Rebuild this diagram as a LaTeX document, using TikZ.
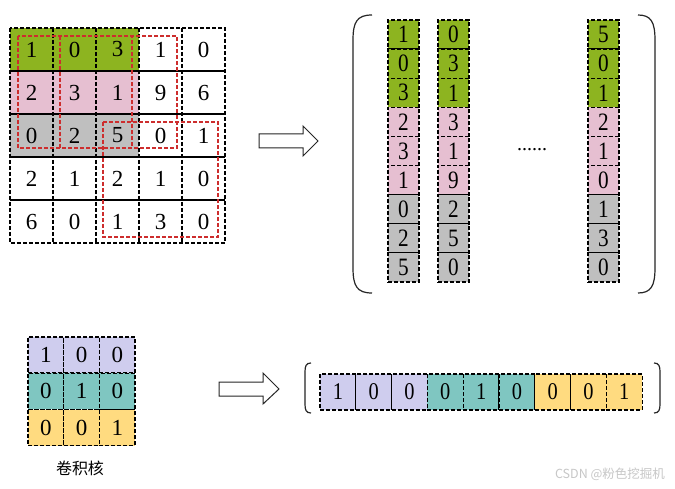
\documentclass[tikz,border=0pt]{standalone}
\usepackage{fontspec}
\setmainfont{Liberation Serif}
\newfontfamily\cjk{Noto Sans CJK SC}
\definecolor{cgreen}{RGB}{141,180,32}
\definecolor{cpink}{RGB}{230,191,209}
\definecolor{cgray}{RGB}{191,191,191}
\definecolor{clav}{RGB}{207,205,238}
\definecolor{cteal}{RGB}{127,198,193}
\definecolor{cyel}{RGB}{255,219,128}
\definecolor{cred}{RGB}{205,45,45}
\tikzset{
  dsh/.style={dash pattern=on 4pt off 2pt, line width=1.3pt},
  num/.style={inner sep=0pt, font=\fontsize{23}{23}\selectfont},
  colcell/.style={draw=black, dsh, minimum width=31pt, minimum height=29.1pt, inner sep=0pt, font=\fontsize{25}{25}\selectfont},
  kcell/.style={draw=black, dsh, minimum width=35.7pt, minimum height=36pt, inner sep=0pt, font=\fontsize{23}{23}\selectfont},
  vcell/.style={draw=black, dsh, minimum width=35.8pt, minimum height=36pt, inner sep=0pt, font=\fontsize{24}{24}\selectfont},
  reddash/.style={draw=cred, dsh},
  bigarrow/.style={draw=black!85, line width=1pt, fill=white},
  bracket/.style={draw=black!85, line width=1.2pt}
}
\begin{document}
\begin{tikzpicture}[x=1pt,y=-1pt]
\useasboundingbox[fill=white] (0,0) rectangle (675,489);
% ---- input grid ----
\fill[cgreen] (10,28) rectangle (139,71);
\fill[cpink] (10,71) rectangle (139,114);
\fill[cgray] (10,114) rectangle (139,157);
\foreach \xx in {53,96,139,182} \draw[dsh] (\xx,28) -- (\xx,243);
\foreach \yy in {71,114,157,200} \draw[line width=1.2pt] (10,\yy) -- (225,\yy);
\draw[dsh] (10,28) rectangle (225,243);
\draw[reddash] (18,36) rectangle (132,148);
\draw[reddash] (60,36) rectangle (177,148);
\draw[reddash] (103,122) rectangle (218,237);
\foreach \row [count=\r from 0] in {{1,0,3,1,0},{2,3,1,9,6},{0,2,5,0,1},{2,1,2,1,0},{6,0,1,3,0}} {
  \foreach \v [count=\c from 0] in \row {
    \node[num] (g\r\c) at ({31.5+43*\c},{49.5+43*\r}) {\v};
  }
}
% ---- arrows ----
\draw[bigarrow] (259,134) -- (303,134) -- (303,126) -- (318,141) -- (303,156) -- (303,148) -- (259,148) -- cycle;
\draw[bigarrow] (219,382) -- (263,382) -- (263,373) -- (279,389) -- (263,404) -- (263,396) -- (219,396) -- cycle;
% ---- column matrix ----
\draw[bracket] (372,15) .. controls (357,15) and (353,22) .. (353,40) -- (353,268) .. controls (353,286) and (357,293) .. (372,293);
\draw[bracket] (638,15) .. controls (651,15) and (655,22) .. (655,40) -- (655,268) .. controls (655,286) and (651,293) .. (638,293);
\foreach \xx/\vals [count=\k] in {388/{1,0,3,2,3,1,0,2,5}, 438/{0,3,1,3,1,9,2,5,0}, 588/{5,0,1,2,1,0,1,3,0}} {
  \foreach \v [count=\i from 0] in \vals {
    \ifnum\i<3 \def\cc{cgreen}\else\ifnum\i<6 \def\cc{cpink}\else\def\cc{cgray}\fi\fi
    \node[colcell, fill=\cc] (c\k-\i) at ({\xx+15.5},{34.55+29.1*\i}) {\scalebox{0.85}[1]{\v}};
  }
}
\node[font=\fontsize{20}{20}\selectfont, inner sep=0pt] (dots) at (532,150) {......};
% ---- kernel ----
\foreach \row [count=\r from 0] in {{1,0,0},{0,1,0},{0,0,1}} {
  \ifnum\r=0 \def\cc{clav}\else\ifnum\r=1 \def\cc{cteal}\else\def\cc{cyel}\fi\fi
  \foreach \v [count=\c from 0] in \row {
    \node[kcell, fill=\cc] (k\r\c) at ({28+17.85+35.7*\c},{337+18+36.3*\r}) {\v};
  }
}
\node[font=\cjk\fontsize{16}{16}\selectfont, inner sep=0pt] (klabel) at (80,468) {卷积核};
% ---- row vector ----
\draw[bracket] (311,363) .. controls (306,363) and (305,366) .. (305,372) -- (305,404) .. controls (305,410) and (306,413) .. (311,413);
\draw[bracket] (654,363) .. controls (659,363) and (660,366) .. (660,372) -- (660,404) .. controls (660,410) and (659,413) .. (654,413);
\foreach \v [count=\i from 0] in {1,0,0,0,1,0,0,0,1} {
  \ifnum\i<3 \def\cc{clav}\else\ifnum\i<6 \def\cc{cteal}\else\def\cc{cyel}\fi\fi
  \node[vcell, fill=\cc] (v\i) at ({320+17.9+35.8*\i},392) {\scalebox{0.85}[1]{\v}};
}
% ---- watermark ----
\node[font=\cjk\fontsize{12.5}{12.5}\selectfont, text=black!22, inner sep=0pt] (wm) at (610,474) {CSDN @粉色挖掘机};
\end{tikzpicture}
\end{document}
